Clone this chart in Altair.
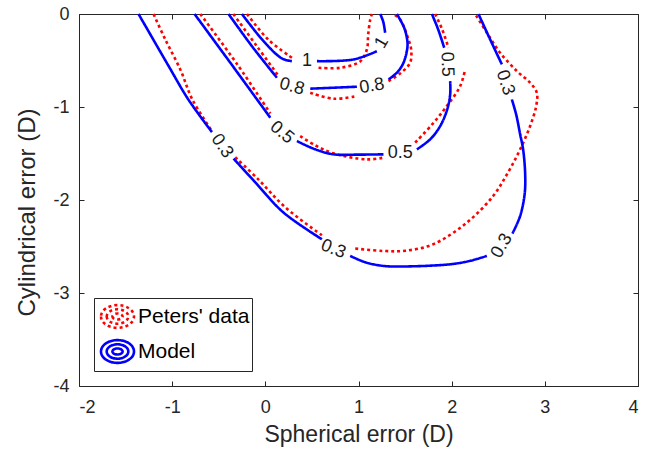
import altair as alt
import pandas as pd

SERIES = ["Peters' data", "Model"]
COLORS = ["#ff0000", "#0000ff"]
X_TICKS = [-2, -1, 0, 1, 2, 3, 4]
Y_TICKS = [-4, -3, -2, -1, 0]

# ---- Model contours (blue), each list = one piece between label gaps ----
M03A_X = [-1.361, -1.042, -0.827, -0.573]
M03A_Y = [0.0, -0.553, -0.918, -1.270]
M03B_X = [-0.341, -0.108, 0.192, 0.607]
M03B_Y = [-1.555, -1.810, -2.132, -2.422]
M03C_X = [0.911, 1.072, 1.268, 1.480, 1.984, 2.195, 2.378]
M03C_Y = [-2.601, -2.669, -2.709, -2.715, -2.691, -2.655, -2.601]
M03D_X = [2.652, 2.735, 2.783, 2.789, 2.767, 2.735, 2.692, 2.646]
M03D_Y = [-2.361, -2.172, -1.939, -1.724, -1.456, -1.294, -1.079, -0.918]
M03E_X = [2.539, 2.413, 2.288]
M03E_Y = [-0.542, -0.274, 0.0]

M05A_X = [-0.760, -0.355, 0.053]
M05A_Y = [0.0, -0.553, -1.115]
M05B_X = [0.339, 0.535, 0.732, 1.000, 1.268]
M05B_Y = [-1.366, -1.455, -1.509, -1.512, -1.509]
M05C_X = [1.627, 1.769, 1.877, 1.952, 1.984, 1.984]
M05C_Y = [-1.455, -1.348, -1.205, -1.026, -0.865, -0.722]
M05D_X = [1.920, 1.855, 1.788]
M05D_Y = [-0.363, -0.166, 0.0]

M08A_X = [-0.395, -0.144, 0.124]
M08A_Y = [0.0, -0.346, -0.685]
M08B_X = [0.482, 0.983]
M08B_Y = [-0.803, -0.782]
M08C_X = [1.322, 1.415, 1.483, 1.526, 1.512, 1.483, 1.412]
M08C_Y = [-0.704, -0.628, -0.524, -0.346, -0.220, -0.131, 0.0]

M10A_X = [-0.251, -0.019, 0.178, 0.285]
M10A_Y = [0.0, -0.292, -0.478, -0.507]
M10B_X = [0.554, 0.946, 1.197]
M10B_Y = [-0.507, -0.489, -0.400]
M10C_X = [1.286, 1.265, 1.233]
M10C_Y = [-0.202, -0.081, 0.0]

# ---- Peters' data contours (red dotted) ----
P03A_X = [-1.200, -1.074, -0.913, -0.784, -0.573]
P03A_Y = [0.0, -0.274, -0.596, -0.918, -1.259]
P03B_X = [-0.323, -0.076, 0.213, 0.607]
P03B_Y = [-1.541, -1.778, -2.078, -2.379]
P03C_X = [0.965, 1.265, 1.501, 1.801, 2.163, 2.445, 2.606, 2.735, 2.842, 2.907,
          2.914, 2.842, 2.700, 2.520, 2.378, 2.252]
P03C_Y = [-2.522, -2.548, -2.546, -2.476, -2.243, -1.957, -1.702, -1.456, -1.205, -0.990,
          -0.846, -0.739, -0.614, -0.417, -0.202, 0.0]

P05A_X = [-0.698, -0.301, 0.053]
P05A_Y = [0.0, -0.542, -1.069]
P05B_X = [0.374, 0.535, 0.729, 1.090, 1.268]
P05B_Y = [-1.313, -1.412, -1.498, -1.563, -1.545]
P05C_X = [1.608, 1.791, 1.948, 2.091, 2.145]
P05C_Y = [-1.383, -1.187, -0.990, -0.776, -0.596]
P05D_X = [1.823, 1.898, 1.966]
P05D_Y = [0.0, -0.166, -0.363]

P08A_X = [-0.344, -0.097, 0.138]
P08A_Y = [0.0, -0.338, -0.661]
P08B_X = [0.482, 0.732, 0.983]
P08B_Y = [-0.846, -0.911, -0.883]
P08C_X = [1.322, 1.447, 1.554, 1.565, 1.536, 1.447, 1.375]
P08C_Y = [-0.722, -0.639, -0.524, -0.381, -0.274, -0.059, 0.0]

P10A_X = [-0.197, 0.031, 0.285]
P10A_Y = [0.0, -0.274, -0.470]
P10B_X = [0.571, 0.804, 1.018, 1.090, 1.104, 1.126, 1.144]
P10B_Y = [-0.578, -0.578, -0.510, -0.381, -0.220, -0.059, 0.0]

# ---- contour labels ----
LABEL_TEXT = ["0.3", "0.3", "0.3", "0.3", "0.5", "0.5", "0.5", "0.8", "0.8", "1", "1"]
LABEL_X = [-0.466, 0.729, 2.539, 2.574, 0.178, 1.447, 1.948, 0.285, 1.144, 0.446, 1.251]
LABEL_Y = [-1.420, -2.530, -2.494, -0.739, -1.276, -1.498, -0.542, -0.782, -0.776, -0.507, -0.309]
LABEL_ANGLE = [55, 22, 300, 72, 40, 0, 88, 15, 350, 0, 300]

model_pieces = [
    ("m03a", M03A_X, M03A_Y), ("m03b", M03B_X, M03B_Y), ("m03c", M03C_X, M03C_Y),
    ("m03d", M03D_X, M03D_Y), ("m03e", M03E_X, M03E_Y),
    ("m05a", M05A_X, M05A_Y), ("m05b", M05B_X, M05B_Y), ("m05c", M05C_X, M05C_Y),
    ("m05d", M05D_X, M05D_Y),
    ("m08a", M08A_X, M08A_Y), ("m08b", M08B_X, M08B_Y), ("m08c", M08C_X, M08C_Y),
    ("m10a", M10A_X, M10A_Y), ("m10b", M10B_X, M10B_Y), ("m10c", M10C_X, M10C_Y),
]
peters_pieces = [
    ("p03a", P03A_X, P03A_Y), ("p03b", P03B_X, P03B_Y), ("p03c", P03C_X, P03C_Y),
    ("p05a", P05A_X, P05A_Y), ("p05b", P05B_X, P05B_Y), ("p05c", P05C_X, P05C_Y),
    ("p05d", P05D_X, P05D_Y),
    ("p08a", P08A_X, P08A_Y), ("p08b", P08B_X, P08B_Y), ("p08c", P08C_X, P08C_Y),
    ("p10a", P10A_X, P10A_Y), ("p10b", P10B_X, P10B_Y),
]


def build(pieces, series):
    rows = []
    for name, xs, ys in pieces:
        for i, (xv, yv) in enumerate(zip(xs, ys)):
            rows.append({"x": xv, "y": yv, "seg": name, "i": i, "series": series})
    return pd.DataFrame(rows)


df_model = build(model_pieces, "Model")
df_peters = build(peters_pieces, "Peters' data")
df_labels = pd.DataFrame({"x": LABEL_X, "y": LABEL_Y, "text": LABEL_TEXT, "angle": LABEL_ANGLE})

FONT = "Liberation Sans"
AX = "#262626"

x_scale = alt.Scale(domain=[-2, 4], nice=False, zero=False)
y_scale = alt.Scale(domain=[-4, 0], nice=False, zero=False)


def ell(a, b):
    return f"M {-a} 0 A {a} {b} 0 1 0 {a} 0 A {a} {b} 0 1 0 {-a} 0 Z "


SYMBOL = ell(1.1, 0.76) + ell(0.72, 0.48) + ell(0.34, 0.2)

legend = alt.Legend(symbolType=SYMBOL)
color = alt.Color("series:N", scale=alt.Scale(domain=SERIES, range=COLORS), legend=legend, title=None)
dash = alt.StrokeDash("series:N", scale=alt.Scale(domain=SERIES, range=[[3, 3], [1, 0]]),
                      legend=legend, title=None)

main_x_axis = alt.Axis(orient="bottom", values=X_TICKS, offset=-5, tickSize=5, domain=False,
                       labelExpr="'' + datum.value", labelPadding=12, labelFontSize=18,
                       labelFont=FONT, labelColor=AX, tickColor=AX, grid=False,
                       title="Spherical error (D)", titleFont=FONT, titleFontSize=23,
                       titleFontWeight="normal", titleColor=AX, titlePadding=7)
main_y_axis = alt.Axis(orient="left", values=Y_TICKS, offset=-5, tickSize=5, domain=False,
                       labelExpr="'' + datum.value", labelPadding=10, labelFontSize=18,
                       labelFont=FONT, labelColor=AX, tickColor=AX, grid=False,
                       title="Cylindrical error (D)", titleFont=FONT, titleFontSize=24,
                       titleFontWeight="normal", titleColor=AX, titlePadding=13,
                       titleY=198)
top_axis = alt.Axis(orient="top", values=X_TICKS, offset=-5, tickSize=5, domain=False,
                    labels=False, tickColor=AX, grid=False, title=None)
right_axis = alt.Axis(orient="right", values=Y_TICKS, offset=-5, tickSize=5, domain=False,
                      labels=False, tickColor=AX, grid=False, title=None)

frame = alt.Chart(df_labels).mark_point(opacity=0).encode(
    x=alt.X("x:Q", scale=x_scale, axis=top_axis),
    y=alt.Y("y:Q", scale=y_scale, axis=right_axis),
)

red = alt.Chart(df_peters).mark_line(strokeWidth=2.6, strokeCap="butt",
                                     interpolate="catmull-rom").encode(
    x=alt.X("x:Q", scale=x_scale, axis=main_x_axis),
    y=alt.Y("y:Q", scale=y_scale, axis=main_y_axis),
    color=color, strokeDash=dash,
    detail="seg:N", order="i:Q",
)

blue = alt.Chart(df_model).mark_line(strokeWidth=2.6, strokeCap="butt",
                                     interpolate="catmull-rom").encode(
    x=alt.X("x:Q", scale=x_scale, axis=None),
    y=alt.Y("y:Q", scale=y_scale, axis=None),
    color=color, strokeDash=dash,
    detail="seg:N", order="i:Q",
)

labels = alt.Chart(df_labels).mark_text(font=FONT, fontSize=18, color="#1a1a1a",
                                        align="center", baseline="middle").encode(
    x=alt.X("x:Q", scale=x_scale, axis=None),
    y=alt.Y("y:Q", scale=y_scale, axis=None),
    text="text:N",
    angle=alt.Angle("angle:Q", scale=None),
)

chart = alt.layer(frame, red, blue, labels).resolve_axis(
    x="independent", y="independent"
).properties(
    width=559, height=372,
    autosize=alt.AutoSizeParams(type="none"),
    padding={"left": 79, "top": 14, "right": 9, "bottom": 66},
).configure_view(
    stroke=AX, strokeWidth=1
).configure_legend(
    orient="bottom-left", offset=15, strokeColor=AX, fillColor="white", padding=2,
    cornerRadius=0, labelFont=FONT, labelFontSize=21, labelColor="#000000",
    labelOffset=4, symbolSize=900, symbolStrokeWidth=2.6, symbolFillColor="transparent",
    symbolOffset=5, rowPadding=0, labelLimit=300,
)

chart.save("out.html", embed_options={"renderer": "svg", "actions": False})
